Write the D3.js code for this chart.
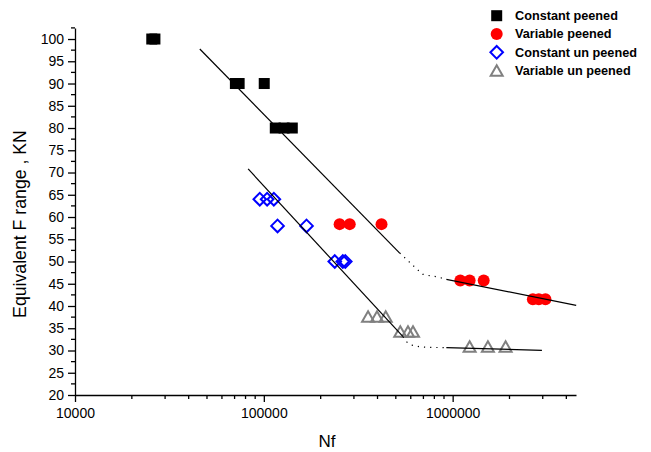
<!DOCTYPE html>
<html><head><meta charset="utf-8">
<script src="https://cdn.jsdelivr.net/npm/d3@7"></script>
<style>
html,body{margin:0;padding:0;background:#fff;}
svg{display:block;font-family:"Liberation Sans",Arial,sans-serif;}
</style></head>
<body>
<svg id="chart" width="651" height="452"></svg>
<script>
// ---- data ----
const constPeenedN = [25500, 26500, 70700, 74000, 100500, 115000, 128000, 141500];
const constPeenedF = [100, 100, 90, 90, 90, 80, 80, 80];
const varPeenedN = [252000, 285000, 420000, 1098000, 1230000, 1460000, 2660000, 2860000, 3100000];
const varPeenedF = [58.4, 58.4, 58.4, 45.75, 45.75, 45.75, 41.5, 41.5, 41.5];
const constUnN = [95200, 104100, 113000, 118200, 168300, 237500, 262000, 270000];
const constUnF = [64, 64, 64, 58, 58, 50, 50, 50];
const varUnN = [356500, 397600, 442000, 528000, 580000, 616600, 1230000, 1537000, 1907000];
const varUnF = [37.6, 37.6, 37.6, 34.2, 34.2, 34.2, 30.85, 30.85, 30.85];

// fitted lines [N, F]
const fitConstPeened = [[45800, 97.75], [524300, 51.9]];
const transConstPeened = [[524300, 51.9], [569000, 50.5], [604500, 49.44], [655300, 48.09], [696500, 47.12], [755000, 46.81], [820000, 46.58], [889000, 46.22], [926000, 46.0]];
const fitVarPeened = [[926000, 46.0], [4510000, 40.16]];
const fitConstUn = [[82600, 70.8], [545800, 33.1]];
const transConstUn = [[545800, 33.1], [568000, 31.98], [604500, 31.24], [669000, 30.85], [726000, 30.72], [926000, 30.63]];
const fitVarUn = [[926000, 30.63], [2970000, 30.04]];

const legendLabels = ["Constant peened", "Variable peened", "Constant un peened", "Variable un peened"];
const yTicks = d3.range(20, 101, 5);
const yMinor = d3.range(22.5, 103, 5);
const xMajor = [10000, 100000, 1000000];

// ---- layout ----
const svg = d3.select("#chart");
const x = d3.scaleLog().domain([10000, 4500000]).range([75, 576]);
const y = d3.scaleLinear().domain([20, 102.5]).range([395, 27.9]);

const xMinor = [];
[10000, 100000, 1000000].forEach(d => { for (let k = 2; k <= 9; k++) { const v = d * k; if (v <= 4500000) xMinor.push(v); } });

// axes
const gx = svg.append("g").attr("transform", "translate(0,395)");
gx.call(d3.axisBottom(x).tickValues(xMajor).tickFormat(d3.format("d")).tickSize(7).tickSizeOuter(0));
gx.select(".domain").attr("stroke-width", 1.3);
gx.selectAll(".tick line").attr("stroke-width", 1.3);
gx.selectAll(".tick text").attr("font-size", 14).attr("fill", "#000").attr("font-family", "Liberation Sans, Arial").attr("dy", "0.9em");
gx.append("g").selectAll("line").data(xMinor).join("line")
  .attr("x1", d => x(d)).attr("x2", d => x(d)).attr("y1", 0).attr("y2", 4)
  .attr("stroke", "#000").attr("stroke-width", 1.3);

const gy = svg.append("g").attr("transform", "translate(75,0)");
gy.call(d3.axisLeft(y).tickValues(yTicks).tickSize(7).tickSizeOuter(0));
gy.select(".domain").attr("stroke-width", 1.3);
gy.selectAll(".tick line").attr("stroke-width", 1.3);
gy.selectAll(".tick text").attr("font-size", 14).attr("fill", "#000").attr("font-family", "Liberation Sans, Arial").attr("x", -11);
gy.append("g").selectAll("line").data(yMinor).join("line")
  .attr("x1", 0).attr("x2", -4).attr("y1", d => y(d)).attr("y2", d => y(d))
  .attr("stroke", "#000").attr("stroke-width", 1.3);

// axis titles
svg.append("text").attr("x", 327).attr("y", 447).attr("text-anchor", "middle")
  .attr("font-size", 17).text("Nf");
svg.append("text").attr("transform", "translate(26,224) rotate(-90)").attr("text-anchor", "middle")
  .attr("font-size", 17.7).text("Equivalent F range , KN");

// markers
const sq = 11;
function drawSquares(g, N, F) {
  g.selectAll(null).data(N).join("rect")
    .attr("x", (d) => x(d) - sq / 2).attr("y", (d, i) => y(F[i]) - sq / 2)
    .attr("width", sq).attr("height", sq).attr("fill", "#000");
}
function drawCircles(g, N, F) {
  g.selectAll(null).data(N).join("circle")
    .attr("cx", d => x(d)).attr("cy", (d, i) => y(F[i])).attr("r", 6).attr("fill", "#ff0000");
}
const diamondPath = "M0,-6.3L6.3,0L0,6.3L-6.3,0Z";
const trianglePath = "M0,-5.5L6,5L-6,5Z";
function drawDiamonds(g, N, F) {
  g.selectAll(null).data(N).join("path")
    .attr("d", diamondPath).attr("transform", (d, i) => `translate(${x(d)},${y(F[i])})`)
    .attr("fill", "none").attr("stroke", "#0000ff").attr("stroke-width", 2);
}
function drawTriangles(g, N, F) {
  g.selectAll(null).data(N).join("path")
    .attr("d", trianglePath).attr("transform", (d, i) => `translate(${x(d)},${y(F[i])})`)
    .attr("fill", "none").attr("stroke", "#808080").attr("stroke-width", 2);
}
const gm = svg.append("g");
drawSquares(gm.append("g"), constPeenedN, constPeenedF);
drawCircles(gm.append("g"), varPeenedN, varPeenedF);
drawDiamonds(gm.append("g"), constUnN, constUnF);
drawTriangles(gm.append("g"), varUnN, varUnF);

// lines
const line = d3.line().x(d => x(d[0])).y(d => y(d[1]));
const gl = svg.append("g").attr("fill", "none").attr("stroke", "#000");
[fitConstPeened, fitVarPeened, fitConstUn, fitVarUn].forEach(p =>
  gl.append("path").attr("d", line(p)).attr("stroke-width", 1.2));
[transConstPeened, transConstUn].forEach(p =>
  gl.append("path").attr("d", line(p)).attr("stroke-width", 1.2).attr("stroke-dasharray", "1.2,5"));

// legend
const lg = svg.append("g");
const rows = [15.7, 33.9, 52.3, 70.7];
const lx = 496.7;
lg.append("rect").attr("x", lx - 5.5).attr("y", rows[0] - 5.5).attr("width", sq).attr("height", sq).attr("fill", "#000");
lg.append("circle").attr("cx", lx).attr("cy", rows[1]).attr("r", 6).attr("fill", "#ff0000");
lg.append("path").attr("d", diamondPath).attr("transform", `translate(${lx},${rows[2]})`).attr("fill", "none").attr("stroke", "#0000ff").attr("stroke-width", 2);
lg.append("path").attr("d", trianglePath).attr("transform", `translate(${lx},${rows[3]})`).attr("fill", "none").attr("stroke", "#808080").attr("stroke-width", 2);
lg.selectAll("text").data(legendLabels).join("text")
  .attr("x", 515).attr("y", (d, i) => rows[i] + 4.5)
  .attr("font-size", 12.7).attr("font-weight", "bold").text(d => d);
</script>
</body></html>
